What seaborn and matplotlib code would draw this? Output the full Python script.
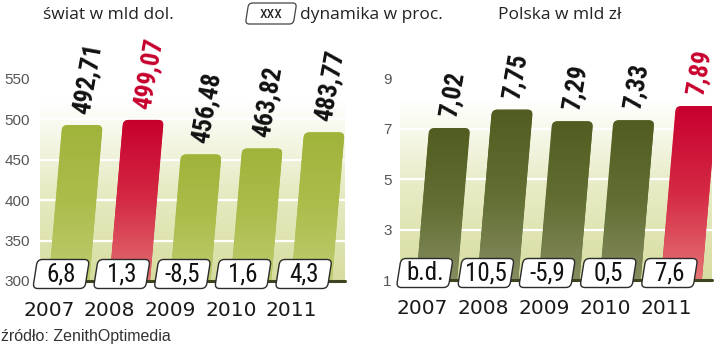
import numpy as np
import pandas as pd
import matplotlib
matplotlib.use("Agg")
import matplotlib.pyplot as plt
import seaborn as sns
from matplotlib.patches import FancyBboxPatch
from matplotlib.transforms import Affine2D, offset_copy, blended_transform_factory
from matplotlib.colors import LinearSegmentedColormap

# ---------------- data ----------------
years = ["2007", "2008", "2009", "2010", "2011"]
world_values = [492.71, 499.07, 456.48, 463.82, 483.77]
world_labels = ["492,71", "499,07", "456,48", "463,82", "483,77"]
world_dynamics = ["6,8", "1,3", "-8,5", "1,6", "4,3"]
world_ticks = [300, 350, 400, 450, 500, 550]
world_highlight = 1

poland_values = [7.02, 7.75, 7.29, 7.33, 7.89]
poland_labels = ["7,02", "7,75", "7,29", "7,33", "7,89"]
poland_dynamics = ["b.d.", "10,5", "-5,9", "0,5", "7,6"]
poland_ticks = [1, 3, 5, 7, 9]
poland_highlight = 4

title_world = "świat w mld dol."
title_dyn = "dynamika w proc."
title_poland = "Polska w mld zł"
source = "źródło: ZenithOptimedia"

# ---------------- style ----------------
sns.set_style("white")
plt.rcParams["font.family"] = ["Liberation Sans", "DejaVu Sans"]
COND = ["Roboto Condensed", "DejaVu Sans"]
TITLE = ["Open Sans", "Liberation Sans", "DejaVu Sans"]

fig = plt.figure(figsize=(7.2, 3.47), dpi=100)
W, H = 720, 347

ax1 = fig.add_axes([40 / W, 66 / H, 305 / W, 212 / H])
ax2 = fig.add_axes([400 / W, 67 / H, 312 / W, 212 / H])

SKEW = 0.085

bg_cmap = LinearSegmentedColormap.from_list(
    "bg", [(0, "#d7dd9f"), (0.45, "#e8ecc6"), (0.85, "#ffffff"), (1, "#ffffff")])


def skew_transform(ax):
    y0 = ax.transAxes.transform((0, 0))[1]
    return ax.transData + Affine2D().translate(0, -y0).skew(np.arctan(SKEW), 0).translate(0, y0)


def draw_panel(ax, values, labels, dyn, ticks, ylim, xlim, hi,
               base_cols, hi_cols, box_dx, year_dx, tick_pad):
    df = pd.DataFrame({"year": years, "value": values})
    pal = [hi_cols[1] if i == hi else base_cols[1] for i in range(len(years))]
    sns.barplot(data=df, x="year", y="value", hue="year", palette=pal,
                legend=False, width=0.67, ax=ax, saturation=1)
    ax.set_xlim(*xlim)
    ax.set_ylim(*ylim)

    grad = np.linspace(0, 1, 256).reshape(-1, 1)
    ax.imshow(grad, extent=(0, 1, 0, 1), transform=ax.transAxes, cmap=bg_cmap,
              aspect="auto", origin="lower", zorder=0)
    for t in ticks[1:]:
        ax.axhline(t, color="white", lw=1.6, zorder=1)

    sk = skew_transform(ax)
    px_x = ax.transData.transform((1, 0))[0] - ax.transData.transform((0, 0))[0]
    px_y = ax.transData.transform((0, 1))[1] - ax.transData.transform((0, 0))[1]
    r = 5.5 / px_x
    asp = px_x / px_y
    yr = ylim[1] - ylim[0]

    rects = sorted(ax.patches, key=lambda p: p.get_x())
    for i, p in enumerate(rects):
        x, w, h = p.get_x(), p.get_width(), p.get_height()
        p.set_visible(False)
        cols = hi_cols if i == hi else base_cols
        bottom = ylim[0] - 0.3 * yr
        fp = FancyBboxPatch((x, bottom), w, h - bottom,
                            boxstyle=f"round,pad=0,rounding_size={r}",
                            mutation_aspect=asp, transform=sk,
                            facecolor=cols[1], edgecolor="none", zorder=2)
        ax.add_patch(fp)
        cm = LinearSegmentedColormap.from_list("b", [cols[2], cols[1], cols[0]])
        im = ax.imshow(grad, extent=(x, x + w, ylim[0], h), transform=sk, cmap=cm,
                       aspect="auto", origin="lower", zorder=3)
        im.set_clip_path(fp)

        tt = offset_copy(sk, fig=fig, x=-1, y=11, units="dots")
        ax.text(x + w / 2, h, labels[i], transform=tt, rotation=80,
                rotation_mode="anchor", ha="left", va="center",
                fontsize=18.5, fontweight="bold", family=COND, fontstretch="condensed",
                color=(hi_cols[0] if i == hi else "#111111"), zorder=6, clip_on=False)

    ax.set_xlim(*xlim)
    ax.set_ylim(*ylim)

    ax.axhline(ylim[0], color="#3d4520", lw=2.2, zorder=4, clip_on=False)

    for i, p in enumerate(rects):
        xc = p.get_x() + p.get_width() / 2
        cx, cy = ax.transData.transform((xc, ylim[0]))
        cx += box_dx
        cy += 7
        box = FancyBboxPatch((-26, -14.5), 52, 29,
                             boxstyle="round,pad=0,rounding_size=5",
                             transform=Affine2D().skew_deg(9, 0).translate(cx, cy),
                             facecolor="white", edgecolor="#2b2b2b", lw=1.0,
                             zorder=7, clip_on=False)
        ax.add_artist(box)
        ax.text(xc, ylim[0], dyn[i],
                transform=offset_copy(ax.transData, fig=fig, x=box_dx, y=6.5, units="dots"),
                ha="center", va="center", fontsize=18, family=COND, fontstretch="condensed",
                color="#111111", zorder=8, clip_on=False)
        yt = offset_copy(blended_transform_factory(ax.transData, ax.transAxes),
                         fig=fig, x=year_dx, y=-29, units="dots")
        ax.text(xc, 0, years[i], transform=yt, ha="center", va="center",
                fontsize=14.5, family=["DejaVu Sans"], color="#1a1a1a", clip_on=False)

    ax.set_yticks(ticks)
    ax.set_yticklabels([str(t) for t in ticks], color="#555555", fontsize=11)
    ax.tick_params(axis="y", length=0, pad=tick_pad)
    ax.set_xticks([])
    ax.set_xlabel("")
    ax.set_ylabel("")
    for s in ax.spines.values():
        s.set_visible(False)


draw_panel(ax1, world_values, world_labels, world_dynamics, world_ticks,
           (300, 562), (-0.48, 4.55), world_highlight,
           ("#a0b33a", "#adbd4c", "#bfcc70"), ("#c6002c", "#d42a45", "#e27070"),
           box_dx=-8, year_dx=-20, tick_pad=7)
draw_panel(ax2, poland_values, poland_labels, poland_dynamics, poland_ticks,
           (1, 9.4), (-0.6, 4.5), poland_highlight,
           ("#515d20", "#626e32", "#858c60"), ("#c8002e", "#d42a45", "#e67373"),
           box_dx=-12, year_dx=-15, tick_pad=6)

fig.text(43 / W, 1 - 15 / H, title_world, ha="left", va="center", fontsize=12.5,
         family=TITLE, color="#222222")
bx, by = 247, H - 13.5
fig.add_artist(FancyBboxPatch((-24, -10.5), 48, 21, boxstyle="round,pad=0,rounding_size=4",
                              transform=Affine2D().skew_deg(9, 0).translate(bx + 24, by),
                              facecolor="white", edgecolor="#444444", lw=0.9))
fig.text((bx + 24) / W, by / H, "xxx", ha="center", va="center", fontsize=12.5,
         family=COND, fontstretch="condensed", color="#222222")
fig.text(300 / W, 1 - 15 / H, title_dyn, ha="left", va="center", fontsize=12.5,
         family=TITLE, color="#222222")
fig.text(498 / W, 1 - 15 / H, title_poland, ha="left", va="center", fontsize=12.5,
         family=TITLE, color="#222222")
fig.text(1 / W, 1 - 336 / H, source, ha="left", va="center", fontsize=11.5, color="#333333")

fig.savefig("out.png", dpi=100)
